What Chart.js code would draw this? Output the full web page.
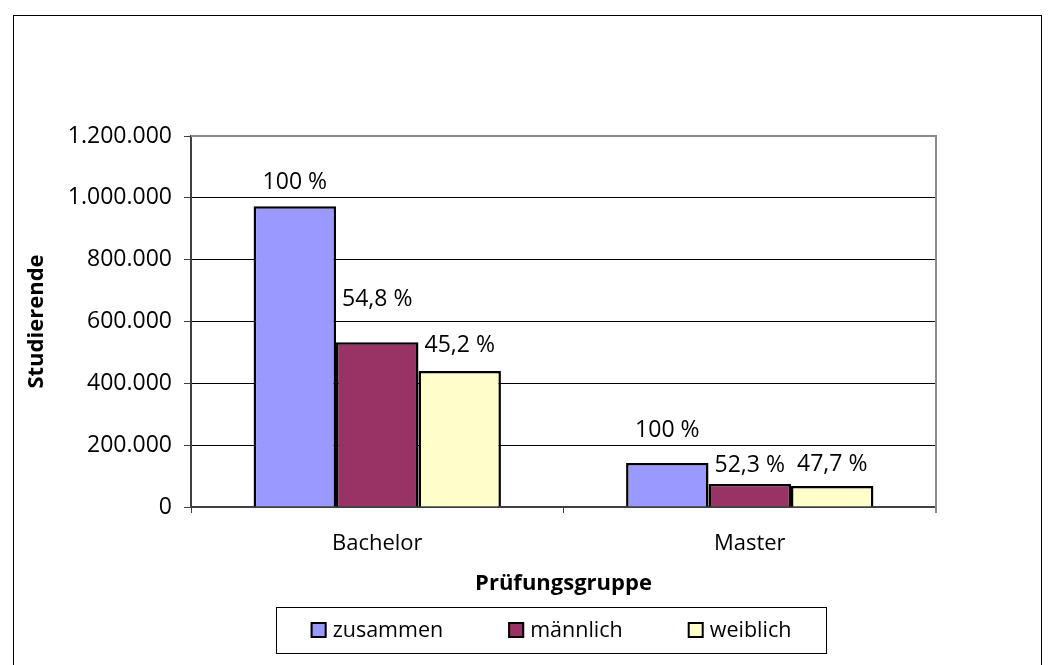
<!DOCTYPE html>
<html>
<head>
<meta charset="utf-8">
<script src="https://cdn.jsdelivr.net/npm/chart.js@4"></script>
<style>
  html, body { margin: 0; padding: 0; background: #fff; }
  #wrap { width: 1055px; height: 665px; }
</style>
</head>
<body>
<div id="wrap"><canvas id="chart" width="1055" height="665"></canvas></div>
<script>
// Studierende nach Prüfungsgruppe
const categories = ['Bachelor', 'Master'];
const seriesNames = ['zusammen', 'männlich', 'weiblich'];
const seriesColors = ['#9999ff', '#993366', '#ffffcc'];
const zusammen = [973000, 142000];
const maennlich = [533200, 74300];
const weiblich = [439800, 67700];
const pctLabels = [
  ['100 %', '100 %'],
  ['54,8 %', '52,3 %'],
  ['45,2 %', '47,7 %']
];
const yTicks = [0, 200000, 400000, 600000, 800000, 1000000, 1200000];

// label offsets above bar tops (as placed in the original)
const labelShift = [[-24, -33], [-43, -19], [-26, -22]];

const FONT = '"Open Sans", "Noto Sans", sans-serif';

function fmt(v) {
  return String(v).replace(/\B(?=(\d{3})+(?!\d))/g, '.');
}

const decorPlugin = {
  id: 'decor',
  afterDraw(chart) {
    const ctx = chart.ctx;
    const a = chart.chartArea;
    ctx.save();
    // outer frame
    ctx.strokeStyle = '#000';
    ctx.lineWidth = 1;
    ctx.strokeRect(13.5, 15.5, 1028, 700);
    // plot border top / right
    ctx.strokeStyle = '#8c8c8c';
    ctx.lineWidth = 2;
    ctx.beginPath();
    ctx.moveTo(a.left, a.top);
    ctx.lineTo(a.right, a.top);
    ctx.lineTo(a.right, a.bottom + 6);
    ctx.stroke();

    // legend (boxed, below the axis title)
    const cx = 551, cy = 630, gap = 65, box = 16, textOff = 22;
    ctx.font = '21.5px ' + FONT;
    const items = chart.data.datasets.map(ds => ({
      label: ds.label, color: ds.backgroundColor,
      w: textOff + ctx.measureText(ds.label).width
    }));
    const total = items.reduce((s, it) => s + it.w, 0) + gap * (items.length - 1);
    let x = cx - total / 2;
    ctx.strokeStyle = '#000';
    ctx.lineWidth = 1;
    ctx.strokeRect(Math.round(x - 35) + 0.5, cy - 23 + 0.5, Math.round(total + 69), 46);
    ctx.textAlign = 'left';
    ctx.textBaseline = 'middle';
    items.forEach(it => {
      ctx.fillStyle = it.color;
      ctx.fillRect(x, cy - box / 2, box, box);
      ctx.lineWidth = 2;
      ctx.strokeRect(x + 1, cy - box / 2 + 1, box - 2, box - 2);
      ctx.fillStyle = '#000';
      ctx.fillText(it.label, x + textOff, cy + 1);
      x += it.w + gap;
    });
    ctx.restore();
  },
  afterDatasetsDraw(chart) {
    const ctx = chart.ctx;
    ctx.save();
    ctx.font = '23px ' + FONT;
    ctx.fillStyle = '#000';
    ctx.textAlign = 'center';
    ctx.textBaseline = 'middle';
    chart.data.datasets.forEach((ds, i) => {
      chart.getDatasetMeta(i).data.forEach((bar, j) => {
        ctx.fillText(pctLabels[i][j], bar.x, bar.y + labelShift[i][j]);
      });
    });
    ctx.restore();
  }
};

const ctx = document.getElementById('chart').getContext('2d');
const chart = new Chart(ctx, {
  type: 'bar',
  data: {
    labels: categories,
    datasets: [
      { label: seriesNames[0], data: zusammen, backgroundColor: seriesColors[0] },
      { label: seriesNames[1], data: maennlich, backgroundColor: seriesColors[1] },
      { label: seriesNames[2], data: weiblich, backgroundColor: seriesColors[2] }
    ]
  },
  options: {
    responsive: false,
    animation: false,
    devicePixelRatio: 1,
    layout: { padding: { left: 14, right: 119, top: 136, bottom: 62 } },
    datasets: {
      bar: {
        borderColor: '#000',
        borderWidth: 2.5,
        categoryPercentage: 0.664,
        barPercentage: 1
      }
    },
    plugins: {
      tooltip: { enabled: false },
      legend: { display: false }
    },
    scales: {
      x: {
        offset: true,
        grid: {
          display: true,
          drawOnChartArea: false,
          drawTicks: true,
          tickLength: 6,
          color: '#404040',
          offset: true
        },
        border: { color: '#404040', width: 2 },
        ticks: {
          color: '#000',
          font: { family: FONT, size: 22 },
          padding: 18
        },
        title: {
          display: true,
          text: 'Prüfungsgruppe',
          color: '#000',
          font: { family: FONT, size: 22, weight: 'bold' },
          padding: { top: 6, bottom: 6 }
        },
        afterFit(scale) { scale.height = 96; }
      },
      y: {
        min: 0,
        max: 1200000,
        afterBuildTicks(scale) { scale.ticks = yTicks.map(v => ({ value: v })); },
        grid: {
          color: '#000',
          lineWidth: 1,
          tickLength: 7,
          tickColor: '#404040'
        },
        border: { color: '#404040', width: 2 },
        ticks: {
          color: '#000',
          font: { family: FONT, size: 23 },
          padding: 12,
          callback: v => fmt(v)
        },
        title: {
          display: true,
          text: 'Studierende',
          color: '#000',
          font: { family: FONT, size: 22, weight: 'bold' },
          padding: { top: 10, bottom: 0 }
        },
        afterFit(scale) { scale.width = 177; }
      }
    }
  },
  plugins: [decorPlugin]
});
</script>
</body>
</html>
